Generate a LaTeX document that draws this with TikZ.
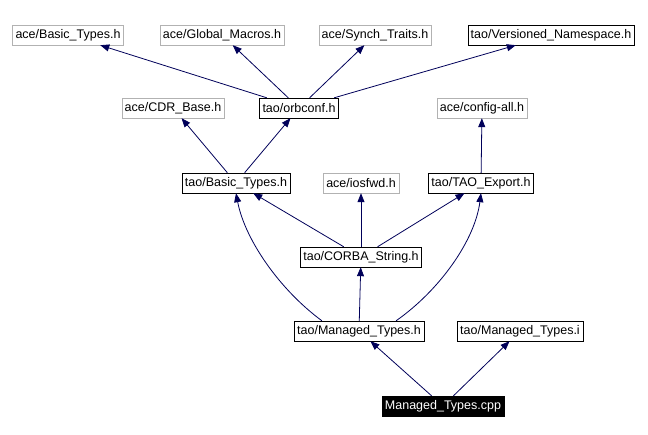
\documentclass[tikz,border=0pt]{standalone}
\usepackage{fontspec}
\setmainfont{Liberation Sans}
\usetikzlibrary{arrows.meta}
\tikzset{
  box/.style={draw, rectangle, minimum height=20pt, inner sep=3pt, font=\fontsize{12.5}{14}\selectfont},
  ext/.style={box, draw=gray!60},
  own/.style={box, draw=black},
  main/.style={box, draw=black, fill=black, text=white},
  dep/.style={draw=blue!35!black, line width=0.8pt, -{Triangle[length=9pt,width=7pt]}}
}
\begin{document}
\begin{tikzpicture}[x=1pt,y=-1pt]
\useasboundingbox (0,0) rectangle (648,435);
% top row
\node[ext] (acebt) at (68,35) {ace/Basic\_Types.h};
\node[ext] (gm) at (222,35) {ace/Global\_Macros.h};
\node[ext] (st) at (375,35) {ace/Synch\_Traits.h};
\node[own] (vn) at (551,35) {tao/Versioned\_Namespace.h};
% second row
\node[ext] (cdr) at (173,108) {ace/CDR\_Base.h};
\node[own] (orb) at (299,108) {tao/orbconf.h};
\node[ext] (cfg) at (482,108) {ace/config-all.h};
% third row
\node[own] (taobt) at (236,183) {tao/Basic\_Types.h};
\node[ext] (ios) at (361,183) {ace/iosfwd.h};
\node[own] (exp) at (481,183) {tao/TAO\_Export.h};
% fourth row
\node[own] (str) at (361,257) {tao/CORBA\_String.h};
% fifth row
\node[own] (mth) at (359,331) {tao/Managed\_Types.h};
\node[own] (mti) at (520,331) {tao/Managed\_Types.i};
% bottom
\node[main] (cpp) at (443,406) {Managed\_Types.cpp};

\draw[dep] (cpp) -- (mth);
\draw[dep] (cpp) -- (mti);
\draw[dep] (mth.north west) ++(28,0) .. controls (280,290) and (245,240) .. (taobt.south);
\draw[dep] (mth) -- (str);
\draw[dep] (mth.north east) ++(-28,0) .. controls (440,290) and (475,240) .. (exp.south);
\draw[dep] (str) -- (taobt);
\draw[dep] (str) -- (ios);
\draw[dep] (str) -- (exp);
\draw[dep] (taobt) -- (cdr);
\draw[dep] (taobt) -- (orb);
\draw[dep] (exp) -- (cfg);
\draw[dep] (orb) -- (acebt);
\draw[dep] (orb) -- (gm);
\draw[dep] (orb) -- (st);
\draw[dep] (orb) -- (vn);
\end{tikzpicture}
\end{document}
